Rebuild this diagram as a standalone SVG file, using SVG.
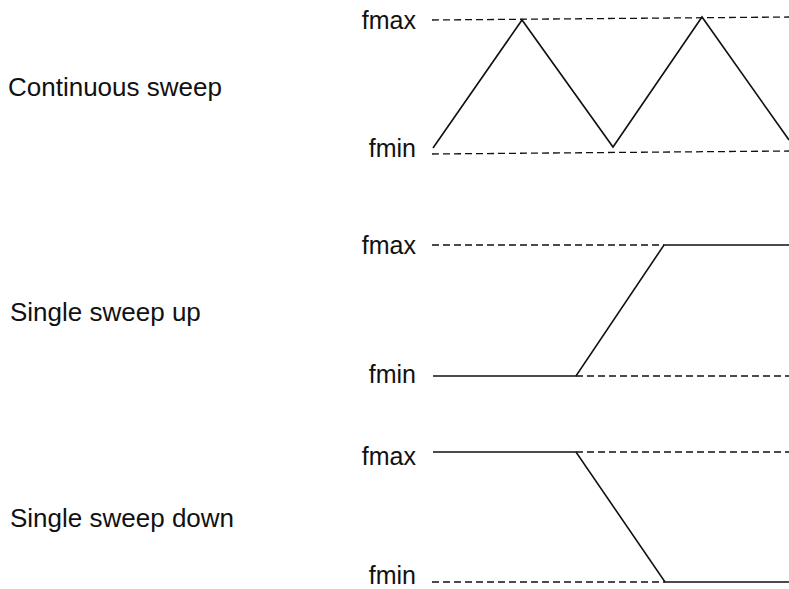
<svg xmlns="http://www.w3.org/2000/svg" width="789" height="589" viewBox="0 0 789 589">
<style>
  .lbl { font-family: "Liberation Sans", Arial, sans-serif; font-size: 26px; fill: #111; }
  .lvl { font-family: "Liberation Sans", Arial, sans-serif; font-size: 25px; fill: #111; text-anchor: end; }
  .sig { fill: none; stroke: #111; stroke-width: 1.6; stroke-linejoin: miter; }
  .dash { fill: none; stroke: #111; stroke-width: 1.3; stroke-dasharray: 7 4; }
</style>
<rect width="789" height="589" fill="#fff"/>

<g id="continuous">
  <text class="lbl" x="8" y="96">Continuous sweep</text>
  <text class="lvl" x="416" y="29">fmax</text>
  <text class="lvl" x="416" y="157">fmin</text>
  <line class="dash" x1="432" y1="20" x2="789" y2="17"/>
  <line class="dash" x1="432" y1="154" x2="789" y2="151"/>
  <polyline class="sig" points="433,148 522,20 613,147 702,17 789,140"/>
</g>

<g id="sweep-up">
  <text class="lbl" x="10" y="321">Single sweep up</text>
  <text class="lvl" x="416" y="254">fmax</text>
  <text class="lvl" x="416" y="383">fmin</text>
  <line class="dash" x1="432" y1="245" x2="664" y2="245"/>
  <line class="dash" x1="576" y1="376" x2="789" y2="376"/>
  <polyline class="sig" points="433,376 576,376 664,245 789,245"/>
</g>

<g id="sweep-down">
  <text class="lbl" x="10" y="527">Single sweep down</text>
  <text class="lvl" x="416" y="465">fmax</text>
  <text class="lvl" x="416" y="584">fmin</text>
  <line class="dash" x1="576" y1="452" x2="789" y2="452"/>
  <line class="dash" x1="432" y1="582" x2="665" y2="582"/>
  <polyline class="sig" points="433,452 576,452 665,582 789,582"/>
</g>
</svg>
